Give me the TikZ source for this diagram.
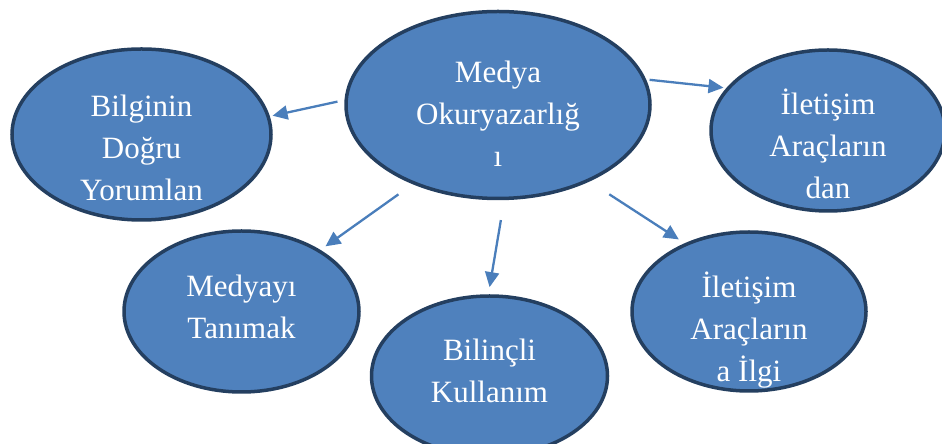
\documentclass[tikz,border=0pt]{standalone}
\usepackage{fontspec}
\setmainfont{Liberation Serif}
\usetikzlibrary{shapes.geometric}
\usetikzlibrary{arrows.meta}
\definecolor{ovalfill}{HTML}{4F81BD}
\definecolor{ovaledge}{HTML}{243F60}
\definecolor{arrowblue}{HTML}{4A7EBB}

\begin{document}
\begin{tikzpicture}[x=1pt, y=1pt,
  oval/.style={ellipse, draw=ovaledge, fill=ovalfill, line width=3.5pt, inner sep=0pt, outer sep=0pt},
  ovaltext/.style={text=white, align=center, font=\fontsize{31}{42}\selectfont},
  link/.style={draw=arrowblue, line width=2.3pt, -{Triangle[length=15pt,width=14pt]}}]
\clip (0,0) rectangle (942,444);
\node[oval, minimum width=304pt, minimum height=187pt,
  label={[ovaltext, yshift=-9pt]center:{Medya\\Okuryazarlığ\\ı}}] (medya) at (498,339) {};
\node[oval, minimum width=259pt, minimum height=171pt,
  label={[ovaltext, yshift=-13.5pt]center:{Bilginin\\Doğru\\Yorumlan}}] (bilgi) at (141.5,309.5) {};
\node[oval, minimum width=234pt, minimum height=161pt,
  label={[ovaltext, yshift=-13.5pt]center:{İletişim\\Araçların\\dan}}] (iletisim) at (828,313.5) {};
\node[oval, minimum width=235pt, minimum height=161pt,
  label={[ovaltext, yshift=4.5pt]center:{Medyayı\\Tanımak}}] (medyayi) at (241.5,132.5) {};
\node[oval, minimum width=236pt, minimum height=160pt,
  label={[ovaltext, yshift=5pt]center:{Bilinçli\\Kullanım}}] (bilincli) at (489.5,68) {};
\node[oval, minimum width=234pt, minimum height=159pt,
  label={[ovaltext, yshift=-18.5pt]center:{İletişim\\Araçların\\a İlgi}}] (ilgi) at (749,132.5) {};

\draw[link, shorten <=9pt, shorten >=4.5pt] (medya.178) -- (bilgi.8);
\draw[link, shorten <=5.5pt, shorten >=5pt] (medya.10) -- (iletisim.157);
\draw[link, shorten <=19.5pt, shorten >=8pt] (medya.223) -- (medyayi.38);
\draw[link, shorten <=22pt, shorten >=9pt] (medya.274) -- (bilincli.91);
\draw[link, shorten <=25.5pt, shorten >=9pt] (medya.320) -- (ilgi.133);
\end{tikzpicture}
\end{document}
